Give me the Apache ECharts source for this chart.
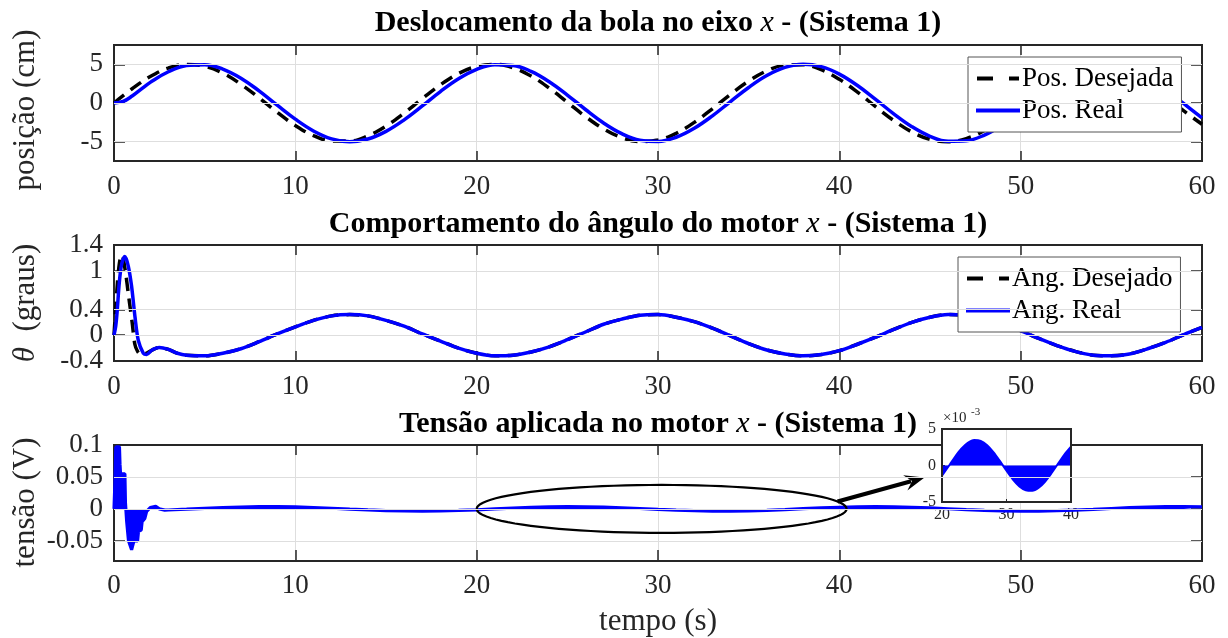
<!DOCTYPE html>
<html><head><meta charset="utf-8">
<script src="https://cdn.jsdelivr.net/npm/echarts@6/dist/echarts.min.js"></script>
<style>html,body{margin:0;padding:0;background:#fff}#c{width:1228px;height:638px}</style>
</head><body><div id="c"></div>
<script>
// ---------------- DATA ----------------
const xTicks = [0, 10, 20, 30, 40, 50, 60];
const posTicks = [-5, 0, 5];
const angTicks = [-0.4, 0, 0.4, 1, 1.4];
const tensaoTicks = [-0.05, 0, 0.05, 0.1];

// Plot 1: ball position (cm)
const posTimeDes = [0,1,2,3,4,5,6,7,8,9,10,11,12,13,14,15,16,17,18,19,20,21,22,23,24,25,26,27,28,29,30,31,32,33,34,35,36,37,38,39,40,41,42,43,44,45,46,47,48,49,50,51,52,53,54,55,56,57,58,59,60];
const posDesejada = [0,1.84,3.42,4.52,4.99,4.76,3.87,2.42,0.66,-1.21,-2.91,-4.21,-4.90,-4.92,-4.25,-2.98,-1.30,0.56,2.35,3.81,4.73,4.99,4.56,3.49,1.92,0.09,-1.75,-3.35,-4.47,-4.98,-4.79,-3.92,-2.51,-0.75,1.12,2.83,4.15,4.88,4.94,4.30,3.06,1.40,-0.47,-2.26,-3.74,-4.70,-5.00,-4.60,-3.55,-2.01,-0.19,1.66,3.28,4.44,4.97,4.82,3.98,2.59,0.84,-1.03,-2.75];
const posTimeReal = [0,0.5,1,1.5,2,3,4,5,6,7,8,9,10,11,12,13,14,15,16,17,18,19,20,21,22,23,24,25,26,27,28,29,30,31,32,33,34,35,36,37,38,39,40,41,42,43,44,45,46,47,48,49,50,51,52,53,54,55,56,57,58,59,60];
const posReal = [0,0.2,0.9,1.8,2.67,4.04,4.84,4.96,4.39,3.21,1.57,-0.28,-2.09,-3.61,-4.63,-5.00,-4.66,-3.67,-2.18,-0.38,1.48,3.13,4.35,4.95,4.86,4.09,2.75,1.03,-0.84,-2.59,-3.97,-4.82,-4.97,-4.43,-3.27,-1.66,0.19,2.01,3.55,4.60,5.00,4.70,3.74,2.26,0.47,-1.40,-3.06,-4.30,-4.94,-4.88,-4.15,-2.83,-1.12,0.75,2.51,3.93,4.79,4.98,4.48,3.35,1.75,-0.09,-1.92];

// Plot 2: motor angle (deg)
const angTimeDesStart = [0,0.1,0.2,0.3,0.42,0.5,0.65,0.8,1.0,1.15,1.3,1.5,1.7,2.1,2.5,3,3.5,4];
const angDesStart = [0,0.45,0.85,1.12,1.25,1.2,0.95,0.62,0.2,-0.14,-0.25,-0.3,-0.29,-0.23,-0.19,-0.22,-0.28,-0.31];
const angTimeRealStart = [0,0.1,0.18,0.29,0.42,0.6,0.79,0.97,1.16,1.34,1.62,1.8,2.1,2.5,3,3.5,4];
const angRealStart = [0,0.15,0.39,0.81,1.1,1.22,1.07,0.76,0.28,-0.08,-0.28,-0.3,-0.23,-0.19,-0.22,-0.28,-0.31];
const angTimeTail = [5,6,7,8,9,10,11,12,13,14,15,16,17,18,19,20,21,22,23,24,25,26,27,28,29,30,31,32,33,34,35,36,37,38,39,40,41,42,43,44,45,46,47,48,49,50,51,52,53,54,55,56,57,58,59,60];
const angTail = [-0.32,-0.28,-0.21,-0.10,0.02,0.13,0.23,0.30,0.32,0.30,0.23,0.14,0.02,-0.09,-0.20,-0.28,-0.32,-0.31,-0.26,-0.18,-0.07,0.05,0.17,0.25,0.31,0.32,0.28,0.21,0.11,-0.01,-0.13,-0.23,-0.29,-0.32,-0.30,-0.24,-0.14,-0.03,0.09,0.20,0.28,0.32,0.31,0.27,0.18,0.07,-0.05,-0.16,-0.25,-0.31,-0.32,-0.29,-0.21,-0.11,0.01,0.12];

// Plot 3: motor voltage (V)
const tensaoTimeStart = [0,0.05,0.1,0.3,0.33,0.36,0.6,0.63,0.7,0.8,0.9,0.97,1.05,1.1,1.3,1.35,1.5,1.55,1.7,1.8,2.0,2.1,2.3,2.5,2.8];
const tensaoStart = [0,0.04,0.097,0.097,0.07,0.055,0.055,0.01,-0.02,-0.05,-0.052,-0.064,-0.064,-0.05,-0.05,-0.035,-0.033,-0.02,-0.015,-0.004,0.002,0.005,0.004,0.0,-0.002];
const tensaoTimeTail = [3,4,5,6,7,8,9,10,11,12,13,14,15,16,17,18,19,20,21,22,23,24,25,26,27,28,29,30,31,32,33,34,35,36,37,38,39,40,41,42,43,44,45,46,47,48,49,50,51,52,53,54,55,56,57,58,59,60];
const tensaoTail_mV = [-1.76,-0.52,0.78,1.98,2.90,3.42,3.46,3.01,2.14,0.98,-0.33,-1.58,-2.62,-3.29,-3.50,-3.22,-2.48,-1.41,-0.13,1.16,2.29,3.10,3.48,3.37,2.79,1.81,0.59,-0.72,-1.93,-2.87,-3.40,-3.47,-3.04,-2.19,-1.03,0.26,1.53,2.58,3.27,3.50,3.24,2.53,1.47,0.20,-1.10,-2.25,-3.08,-3.47,-3.39,-2.83,-1.87,-0.66,0.65,1.87,2.83,3.39,3.47,3.08];
const insetXTicks = [20, 30, 40];
const insetYTicks = [-5, 0, 5];

// annotation (data coordinates of plot 3)
const ellipseCenter = [30.2, 0];
const ellipseHalf = [10.2, 0.0375];
const arrowFrom = [39.9, 0.0115];
const arrowTo = [44.7, 0.049];

// ---------------- BUILD ----------------
const zip = (a, b) => a.map((v, i) => [v, b[i]]);
const FONT = '"Liberation Serif","Times New Roman",serif';
const DARK = '#262626';
const GRIDC = '#dedede';
const grids = [
  {left: 114, top: 45, width: 1088, height: 116},
  {left: 114, top: 245, width: 1088, height: 116},
  {left: 114, top: 445, width: 1088, height: 116}
];
const inset = {left: 942, top: 429, width: 129, height: 73};
const yRanges = [[-7.5, 7.5], [-0.4, 1.4], [-0.08, 0.1]];
const yTickSets = [posTicks, angTicks, tensaoTicks];
const yNames = ['posição (cm)', '{i|θ}{n|  (graus)}', 'tensão (V)'];
const yNamePad = [[0, 14, 0, 0], [0, 0, 0, 0], [0, 0, 0, 0]];

const xAxis = [], yAxis = [];
const tickStyle = {color: DARK, width: 1.5};
const yLabelStyle = {fontFamily: FONT, fontSize: 27, color: DARK, margin: 11,
  showMinLabel: true, showMaxLabel: true, hideOverlap: false};
grids.forEach((g, gi) => {
  xAxis.push({
    type: 'value', gridIndex: gi, position: 'bottom', min: xTicks[0], max: xTicks[xTicks.length - 1], interval: 10,
    axisLine: {show: false, onZero: false},
    axisTick: {show: true, inside: true, length: 10, lineStyle: tickStyle},
    axisLabel: {fontFamily: FONT, fontSize: 27, color: DARK, margin: 12, showMinLabel: true, showMaxLabel: true,
      alignMinLabel: 'center', alignMaxLabel: 'center', hideOverlap: false},
    splitLine: {show: true, lineStyle: {color: GRIDC, width: 1}},
    name: gi === 2 ? 'tempo (s)' : '', nameLocation: 'middle', nameGap: 46, nameMoveOverlap: false,
    nameTextStyle: {fontFamily: FONT, fontSize: 31, color: DARK}
  });
  xAxis.push({
    type: 'value', gridIndex: gi, position: 'top', min: 0, max: 60, interval: 10,
    axisLine: {show: false, onZero: false},
    axisTick: {show: true, inside: true, length: 10, lineStyle: tickStyle},
    axisLabel: {show: false}, splitLine: {show: false}
  });
  const [mn, mx] = yRanges[gi];
  const ticks = yTickSets[gi];
  const evenLabels = ticks.filter((v, i) => i % 2 === 0);
  const oddLabels = ticks.filter((v, i) => i % 2 === 1);
  // left axis: ticks + every other label + name
  yAxis.push({
    type: 'value', gridIndex: gi, position: 'left', min: mn, max: mx,
    axisLine: {show: false, onZero: false},
    axisTick: {show: true, inside: true, length: 11, customValues: ticks, lineStyle: tickStyle},
    axisLabel: Object.assign({customValues: evenLabels}, yLabelStyle),
    splitLine: {show: false},
    name: yNames[gi], nameLocation: 'middle', nameGap: 73, nameMoveOverlap: false,
    nameTextStyle: {fontFamily: FONT, fontSize: 31, color: DARK, padding: yNamePad[gi],
      rich: {i: {fontFamily: FONT, fontSize: 31, fontStyle: 'italic', color: DARK},
             n: {fontFamily: FONT, fontSize: 31, color: DARK}}}
  });
  // left axis: remaining labels only
  yAxis.push({
    type: 'value', gridIndex: gi, position: 'left', offset: 0, min: mn, max: mx,
    axisLine: {show: false, onZero: false},
    axisTick: {show: false},
    axisLabel: Object.assign({customValues: oddLabels}, yLabelStyle),
    splitLine: {show: false}
  });
  // right axis: ticks
  yAxis.push({
    type: 'value', gridIndex: gi, position: 'right', min: mn, max: mx,
    axisLine: {show: false, onZero: false},
    axisTick: {show: true, inside: true, length: 11, customValues: ticks, lineStyle: tickStyle},
    axisLabel: {show: false}, splitLine: {show: false}
  });
});
// inset axes (x index 6, y index 9)
xAxis.push({
  type: 'value', gridIndex: 3, position: 'bottom', min: insetXTicks[0], max: insetXTicks[2], interval: 10, z: 1.5,
  axisLine: {show: false, onZero: false},
  axisTick: {show: true, inside: true, length: 3, lineStyle: {color: DARK}},
  axisLabel: {fontFamily: FONT, fontSize: 16, color: DARK, margin: 5, showMinLabel: true, showMaxLabel: true},
  splitLine: {show: true, lineStyle: {color: GRIDC, width: 1}}
});
yAxis.push({
  type: 'value', gridIndex: 3, position: 'left', min: insetYTicks[0], max: insetYTicks[2], interval: 5, z: 1.5,
  axisLine: {show: false, onZero: false},
  axisTick: {show: true, inside: true, length: 3, lineStyle: {color: DARK}},
  axisLabel: {fontFamily: FONT, fontSize: 16, color: DARK, margin: 6, showMinLabel: true, showMaxLabel: true},
  splitLine: {show: true, lineStyle: {color: GRIDC, width: 1}}
});

function gridLineSeries(gi) {
  const [mn, mx] = yRanges[gi];
  return {
    type: 'line', xAxisIndex: gi * 2, yAxisIndex: gi * 3, z: 0.5, silent: true,
    data: [[0, yTickSets[gi][0]]], symbol: 'none', lineStyle: {width: 0},
    markLine: {silent: true, symbol: ['none', 'none'], label: {show: false}, animation: false,
      lineStyle: {color: GRIDC, type: 'solid', width: 1},
      data: yTickSets[gi].filter(v => v > mn && v < mx).map(v => ({yAxis: v}))}
  };
}

const BLUE = '#0000ff';
const series = [
  gridLineSeries(0), gridLineSeries(1), gridLineSeries(2),
  {name: 'Pos. Desejada', type: 'line', xAxisIndex: 0, yAxisIndex: 0, data: zip(posTimeDes, posDesejada),
   smooth: 0.4, symbol: 'none', lineStyle: {color: '#000', width: 3.5, type: [13, 8]}, itemStyle: {color: '#000'}},
  {name: 'Pos. Real', type: 'line', xAxisIndex: 0, yAxisIndex: 0, data: zip(posTimeReal, posReal),
   smooth: 0.4, symbol: 'none', lineStyle: {color: BLUE, width: 3.5}, itemStyle: {color: BLUE}},
  {name: 'Ang. Desejado', type: 'line', xAxisIndex: 2, yAxisIndex: 3,
   data: zip(angTimeDesStart.concat(angTimeTail), angDesStart.concat(angTail)),
   smooth: 0.3, symbol: 'none', lineStyle: {color: '#000', width: 3.5, type: [13, 8]}, itemStyle: {color: '#000'}},
  {name: 'Ang. Real', type: 'line', xAxisIndex: 2, yAxisIndex: 3,
   data: zip(angTimeRealStart.concat(angTimeTail), angRealStart.concat(angTail)),
   smooth: 0.3, symbol: 'none', lineStyle: {color: BLUE, width: 3.5}, itemStyle: {color: BLUE}},
  {name: 'tensao', type: 'line', xAxisIndex: 4, yAxisIndex: 6,
   data: zip(tensaoTimeStart.concat(tensaoTimeTail), tensaoStart.concat(tensaoTail_mV.map(v => v / 1000))),
   symbol: 'none', lineStyle: {color: BLUE, width: 3.2}, areaStyle: {color: BLUE, opacity: 1}},
  {name: 'tensaoInset', type: 'line', xAxisIndex: 6, yAxisIndex: 9, z: 2,
   data: zip(tensaoTimeTail, tensaoTail_mV).filter(p => p[0] >= 20 && p[0] <= 40),
   smooth: 0.3, symbol: 'none', lineStyle: {color: BLUE, width: 2}, areaStyle: {color: BLUE, opacity: 1}}
];

const DASH_ICON = 'path://M0,0H16V4H0Z M32,0H42V4H32Z';
const legendBase = {
  orient: 'vertical', itemWidth: 44, itemHeight: 4, itemGap: 5, padding: [8, 8, 8, 8],
  backgroundColor: '#fff', borderColor: '#555', borderWidth: 1, borderRadius: 0,
  textStyle: {fontFamily: FONT, fontSize: 27, color: '#000', padding: [0, 0, 0, -3]},
  itemStyle: {borderWidth: 0}, selectedMode: false, z: 5
};

const chart = echarts.init(document.getElementById('c'), null, {renderer: 'canvas'});
chart.setOption({
  animation: false,
  backgroundColor: '#fff',
  grid: grids.map(g => Object.assign({containLabel: false}, g)).concat([
    Object.assign({show: true, backgroundColor: '#fff', borderWidth: 0, z: 1}, inset)
  ]),
  xAxis, yAxis, series,
  legend: [
    Object.assign({}, legendBase, {left: 968, top: 57,
      data: [{name: 'Pos. Desejada', icon: DASH_ICON}, {name: 'Pos. Real', icon: 'rect'}]}),
    Object.assign({}, legendBase, {left: 958, top: 257,
      data: [{name: 'Ang. Desejado', icon: DASH_ICON}, {name: 'Ang. Real', icon: 'rect'}]})
  ]
});

// ---------------- ANNOTATIONS ----------------
const titles = [
  {text: '{b|Deslocamento da bola no eixo }{i|x}{b| - (Sistema 1)}', y: 23},
  {text: '{b|Comportamento do ângulo do motor }{i|x}{b| - (Sistema 1)}', y: 224},
  {text: '{b|Tensão aplicada no motor }{i|x}{b| - (Sistema 1)}', y: 424}
];
const graphics = [];
const TF = 30;
titles.forEach(t => graphics.push({
  type: 'text', x: grids[0].left + grids[0].width / 2, y: t.y, z: 10,
  style: {text: t.text, align: 'center', verticalAlign: 'middle',
    rich: {b: {fontFamily: FONT, fontSize: TF, fontWeight: 'bold', fill: '#000'},
           i: {fontFamily: FONT, fontSize: TF, fontStyle: 'italic', fill: '#000'}}}
}));
// box borders
grids.forEach(g => graphics.push({type: 'rect', z: 0.8, silent: true,
  shape: {x: g.left, y: g.top, width: g.width, height: g.height},
  style: {fill: 'none', stroke: DARK, lineWidth: 2}}));
graphics.push({type: 'rect', z: 3, silent: true,
  shape: {x: inset.left, y: inset.top, width: inset.width, height: inset.height},
  style: {fill: 'none', stroke: DARK, lineWidth: 2}});
// x10^-3
graphics.push({type: 'text', x: inset.left + 1, y: inset.top - 11, z: 3,
  style: {text: '×10', fontFamily: FONT, fontSize: 15, fill: DARK, align: 'left', verticalAlign: 'middle'}});
graphics.push({type: 'text', x: inset.left + 29, y: inset.top - 17, z: 3,
  style: {text: '-3', fontFamily: FONT, fontSize: 11, fill: DARK, align: 'left', verticalAlign: 'middle'}});

const tIdx = series.findIndex(s => s.name === 'tensao');
const c = chart.convertToPixel({seriesIndex: tIdx}, ellipseCenter);
const e = chart.convertToPixel({seriesIndex: tIdx}, [ellipseCenter[0] + ellipseHalf[0], ellipseCenter[1] + ellipseHalf[1]]);
const rx = e[0] - c[0], ry = c[1] - e[1];
const pts = [];
for (let k = 0; k < 96; k++) {
  const a = k / 96 * Math.PI * 2;
  pts.push([c[0] + rx * Math.cos(a), c[1] + ry * Math.sin(a)]);
}
graphics.push({type: 'polygon', z: 4, silent: true, shape: {points: pts},
  style: {fill: 'none', stroke: '#000', lineWidth: 2.2}});
const p0 = chart.convertToPixel({seriesIndex: tIdx}, arrowFrom);
const p1 = chart.convertToPixel({seriesIndex: tIdx}, arrowTo);
const dx = p1[0] - p0[0], dy = p1[1] - p0[1], L = Math.hypot(dx, dy);
const ux = dx / L, uy = dy / L, nx = -uy, ny = ux;
const HL = 18, HW = 8;
const base = [p1[0] - ux * HL, p1[1] - uy * HL];
graphics.push({type: 'line', z: 4, silent: true,
  shape: {x1: p0[0], y1: p0[1], x2: base[0] + ux * 4, y2: base[1] + uy * 4},
  style: {stroke: '#000', lineWidth: 4}});
graphics.push({type: 'polygon', z: 4, silent: true,
  shape: {points: [p1, [base[0] + nx * HW - ux * 2, base[1] + ny * HW - uy * 2],
                   [base[0] + ux * 5, base[1] + uy * 5],
                   [base[0] - nx * HW - ux * 2, base[1] - ny * HW - uy * 2]]},
  style: {fill: '#000'}});

chart.setOption({graphic: graphics});
</script></body></html>
